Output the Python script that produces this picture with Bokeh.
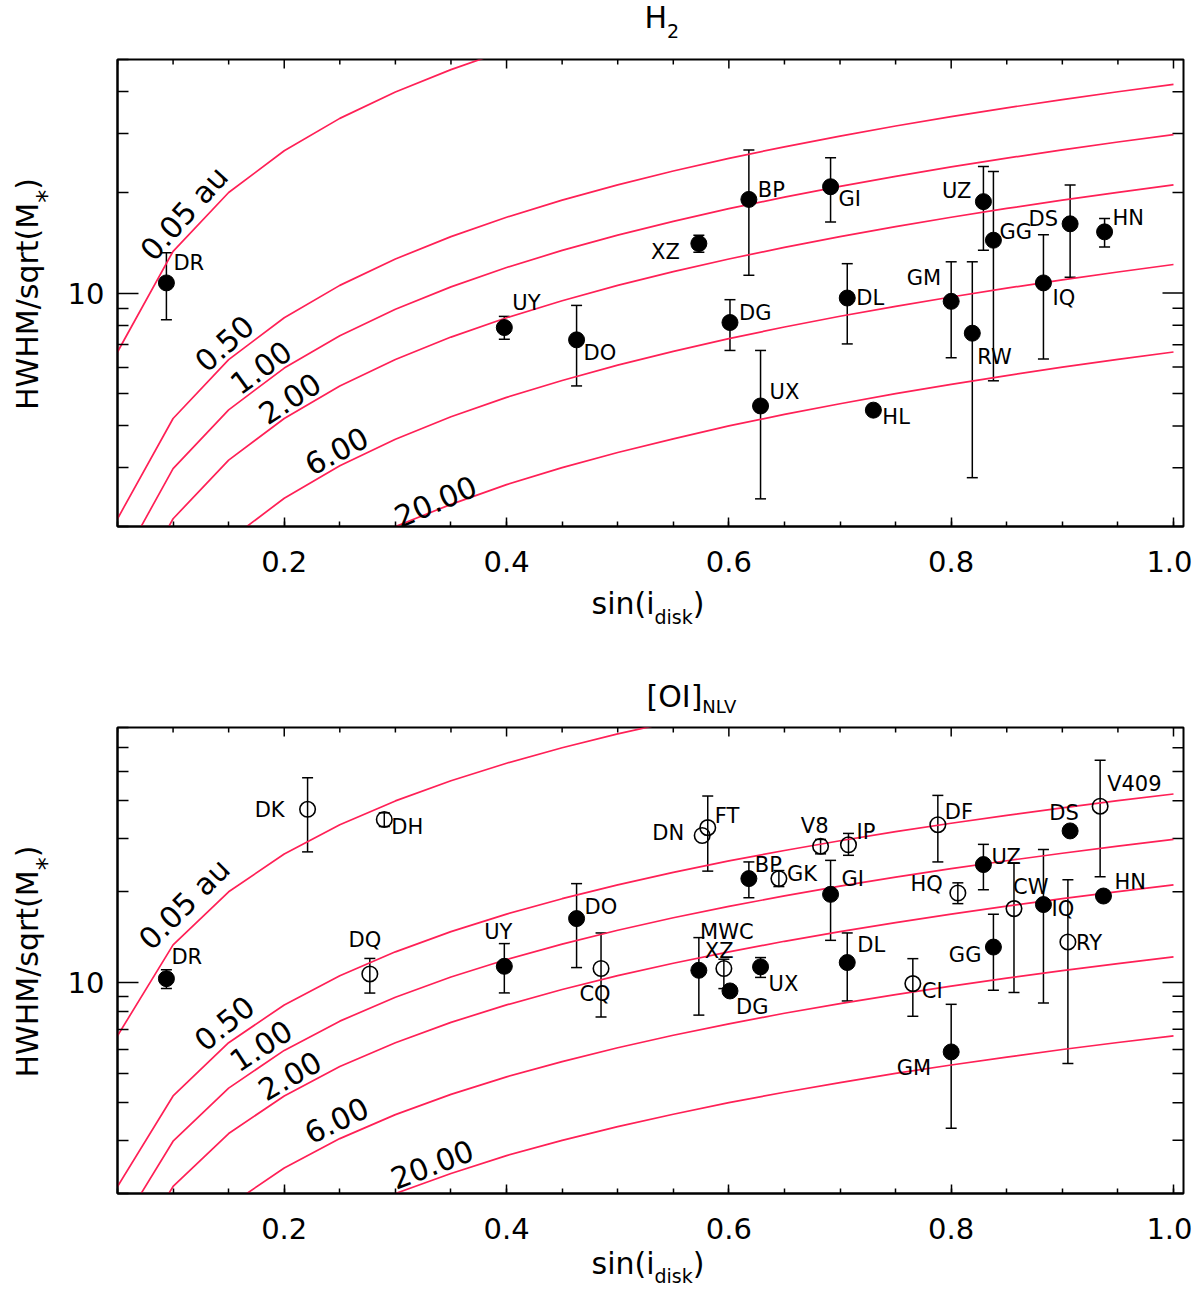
import math

from bokeh.core.properties import value
from bokeh.embed import file_html
from bokeh.layouts import column
from bokeh.models import (ColumnDataSource, FixedTicker, NumeralTickFormatter,
                          Range1d, TeeHead, Whisker)
from bokeh.plotting import figure
from bokeh.resources import INLINE

FONT = "DejaVu Sans"
RED = "#ff2056"

# Keplerian curves: HWHM/sqrt(M*) against sin(i) for a set of radii
sin_grid = [0.05, 0.10, 0.15, 0.20, 0.25, 0.30, 0.35, 0.40, 0.45, 0.50,
            0.55, 0.60, 0.65, 0.70, 0.75, 0.80, 0.85, 0.90, 0.95, 1.00]
kep_labels = ["0.05 au", "0.50", "1.00", "2.00", "6.00", "20.00"]
kep_r005 = [6.66, 13.33, 19.99, 26.65, 33.32, 39.98, 46.64, 53.31, 59.97, 66.64,
            73.30, 79.96, 86.63, 93.29, 99.95, 106.62, 113.28, 119.94, 126.61, 133.27]
kep_r050 = [2.11, 4.21, 6.32, 8.43, 10.54, 12.64, 14.75, 16.86, 18.96, 21.07,
            23.18, 25.29, 27.39, 29.50, 31.61, 33.71, 35.82, 37.93, 40.04, 42.14]
kep_r100 = [1.49, 2.98, 4.47, 5.96, 7.45, 8.94, 10.43, 11.92, 13.41, 14.90,
            16.39, 17.88, 19.37, 20.86, 22.35, 23.84, 25.33, 26.82, 28.31, 29.80]
kep_r200 = [1.05, 2.11, 3.16, 4.21, 5.27, 6.32, 7.38, 8.43, 9.48, 10.54,
            11.59, 12.64, 13.70, 14.75, 15.80, 16.86, 17.91, 18.96, 20.02, 21.07]
kep_r600 = [0.61, 1.22, 1.82, 2.43, 3.04, 3.65, 4.26, 4.87, 5.47, 6.08,
            6.69, 7.30, 7.91, 8.52, 9.12, 9.73, 10.34, 10.95, 11.56, 12.17]
kep_r2000 = [0.33, 0.67, 1.00, 1.33, 1.67, 2.00, 2.33, 2.67, 3.00, 3.33,
             3.66, 4.00, 4.33, 4.66, 5.00, 5.33, 5.66, 6.00, 6.33, 6.66]
kep_curves = [kep_r005, kep_r050, kep_r100, kep_r200, kep_r600, kep_r2000]

x_major = [0.2, 0.4, 0.6, 0.8, 1.0]
x_minor = [0.05, 0.10, 0.15, 0.20, 0.25, 0.30, 0.35, 0.40, 0.45, 0.50,
           0.55, 0.60, 0.65, 0.70, 0.75, 0.80, 0.85, 0.90, 0.95, 1.00]
y_major = [10]
y_minor = [2, 3, 4, 5, 6, 7, 8, 9, 20, 30, 40, 50, 60, 70]

# H2 panel
h2_names = ["DR", "UY", "DO", "XZ", "BP", "DG", "UX", "GI", "DL", "HL",
            "GM", "RW", "UZ", "GG", "IQ", "DS", "HN"]
h2_sini = [0.094, 0.398, 0.463, 0.573, 0.618, 0.601, 0.6285, 0.6915, 0.7065, 0.730,
           0.800, 0.819, 0.829, 0.838, 0.883, 0.907, 0.938]
h2_hwhm = [10.72, 7.88, 7.24, 14.06, 19.06, 8.16, 4.59, 20.8, 9.66, 4.46,
           9.44, 7.58, 18.77, 14.39, 10.72, 16.11, 15.24]
h2_hi = [13.2, 8.51, 9.18, 14.9, 26.8, 9.55, 6.73, 25.4, 12.24, None,
         12.4, 12.4, 23.9, 23.1, 14.94, 21.04, 16.7]
h2_lo = [8.31, 7.27, 5.27, 13.24, 11.3, 6.73, 2.42, 16.3, 7.04, None,
         6.4, 2.80, 13.42, 5.46, 6.35, 11.14, 13.74]
h2_open = [False] * 17

# [OI] NLV panel
oi_names = ["DR", "DK", "DH", "DQ", "UY", "DO", "CQ", "DN", "FT", "XZ",
            "MWC", "DG", "UX", "BP", "GK", "V8", "IP", "GI", "DL", "CI",
            "DF", "GM", "HQ", "UZ", "GG", "CW", "IQ", "RY", "DS", "V409", "HN"]
oi_sini = [0.094, 0.221, 0.290, 0.277, 0.398, 0.463, 0.485, 0.576, 0.581, 0.573,
           0.5955, 0.601, 0.6285, 0.618, 0.645, 0.6825, 0.7076, 0.6915, 0.7065, 0.7655,
           0.788, 0.800, 0.806, 0.829, 0.838, 0.8565, 0.883, 0.905, 0.907, 0.934, 0.937]
oi_hwhm = [10.3, 37.5, 34.7, 10.68, 11.32, 16.29, 11.13, 30.7, 32.6, 10.98,
           11.13, 9.38, 11.27, 22.1, 22.1, 28.3, 28.6, 19.6, 11.65, 9.92,
           33.35, 5.89, 19.8, 24.6, 13.11, 17.58, 18.13, 13.63, 31.8, 38.4, 19.35]
oi_hi = [11.03, 47.7, 36.5, 12.02, 13.46, 21.27, 14.6, None, 41.5, 14.09,
         11.95, None, 12.1, 25.1, 23.5, 29.8, 31.2, 25.4, 14.6, 12.0,
         41.7, 8.47, 21.4, 28.7, 16.84, 24.9, 27.6, 21.93, None, 54.5, None]
oi_lo = [9.56, 27.1, 32.9, 9.23, 9.24, 11.21, 7.69, None, 23.4, 7.8,
         9.55, None, 10.4, 19.1, 20.8, 26.7, 26.4, 13.8, 8.69, 7.73,
         25.1, 3.29, 18.26, 20.3, 9.43, 9.27, 8.56, 5.39, None, 22.4, None]
oi_open = [False, True, True, True, False, False, True, True, True, False,
           True, False, False, False, True, True, True, False, False, True,
           True, False, True, False, False, True, False, True, False, True, False]

# label placement: alignment, x offset, y offset (px, +y down)
h2_lab = {"DR": ("left", 7, -20), "UY": ("left", 8, -25), "DO": ("left", 7, 13),
          "XZ": ("right", -19, 8), "BP": ("left", 9, -9), "DG": ("left", 9, -10),
          "UX": ("left", 9, -14), "GI": ("left", 8, 12), "DL": ("left", 9, 0),
          "HL": ("left", 9, 7), "GM": ("right", -10, -23), "RW": ("left", 5, 24),
          "UZ": ("right", -12, -11), "GG": ("left", 6, -8), "IQ": ("left", 9, 15),
          "DS": ("right", -12, -5), "HN": ("left", 8, -14)}
oi_lab = {"DR": ("left", 5, -22), "DK": ("right", -23, 1), "DH": ("left", 7, 8),
          "DQ": ("center", -5, -34), "UY": ("center", -6, -34), "DO": ("left", 8, -12),
          "CQ": ("center", -6, 25), "DN": ("right", -18, -3), "FT": ("left", 7, -12),
          "XZ": ("left", 6, -19), "MWC": ("center", 3, -37), "DG": ("left", 6, 16),
          "UX": ("left", 8, 17), "BP": ("left", 6, -14), "GK": ("left", 8, -5),
          "V8": ("right", 8, -20), "IP": ("left", 8, -13), "GI": ("left", 11, -15),
          "DL": ("left", 10, -18), "CI": ("left", 9, 7), "DF": ("left", 7, -13),
          "GM": ("right", -20, 16), "HQ": ("right", -15, -9), "UZ": ("left", 8, -8),
          "GG": ("right", -12, 8), "CW": ("left", -1, -22), "IQ": ("left", 8, 4),
          "RY": ("left", 8, 1), "DS": ("center", -6, -18), "V409": ("left", 7, -22),
          "HN": ("left", 11, -14)}

# curve label spots: x, y, angle (deg)
h2_curve_lab = [(0.110, 17.3, 48), (0.146, 7.07, 42), (0.179, 5.99, 36),
                (0.205, 4.84, 33), (0.247, 3.37, 28), (0.336, 2.38, 23)]
oi_curve_lab = [(0.110, 18.2, 45), (0.146, 7.33, 39), (0.179, 6.18, 33),
                (0.205, 4.92, 30), (0.247, 3.50, 26), (0.333, 2.50, 21)]

X0, X1 = 0.05, 1.009
FRAME_W = 1066
YMIN = 2

# DejaVu Sans advance widths (em), to chain sub/superscript runs
WIDTH = {"H": .752, "W": .989, "M": .863, "/": .337, "s": .521, "q": .635, "r": .411,
         "t": .392, "(": .390, ")": .390, "*": .500, "i": .278, "n": .634, "d": .635,
         "k": .579, "[": .390, "]": .390, "O": .787, "I": .295, "N": .748, "L": .557,
         "V": .684, "2": .636}


def text_width(s, size):
    return sum(WIDTH.get(c, 0.6) for c in s) * size


def add_runs(p, to_data, fx, fy, runs, vertical=False):
    # fx, fy: baseline start in px from the frame's top-left corner, y downwards
    pos = 0.0
    for txt, size, shift in runs:
        down = shift - 0.365 * size  # "middle" anchor sits at cap centre
        if vertical:
            x, y = to_data(fx + down, fy - pos)
        else:
            x, y = to_data(fx + pos, fy + down)
        p.text(x=[x], y=[y], text=[txt], angle=math.pi / 2 if vertical else 0,
               text_align="left", text_baseline="middle", text_font=value(FONT),
               text_font_size=f"{size}px", text_color="black", level="overlay")
        pos += text_width(txt, size)


def style_axis(ax, kind):
    ax.axis_line_width = 2
    ax.axis_line_color = "black"
    ax.major_tick_line_width = 1.5
    ax.minor_tick_line_width = 1.5
    ax.major_tick_out = 0
    ax.minor_tick_out = 0
    ax.major_tick_in = 9 if kind == "x" else 21
    ax.minor_tick_in = 5 if kind == "x" else 11
    ax.major_label_text_font = FONT
    ax.major_label_text_font_size = "29px"
    ax.major_label_text_color = "black"
    ax.major_label_standoff = 24 if kind == "x" else 13


def make_panel(ymax, frame_h, border_top, border_bottom, names, sini, hwhm, hi, lo, hollow,
               lab, curve_lab, title_runs, title_at, xlab_dy, sub_dy):
    p = figure(frame_width=FRAME_W, frame_height=frame_h,
               x_range=Range1d(X0, X1), y_range=Range1d(YMIN, ymax),
               y_axis_type="log", output_backend="svg", toolbar_location=None,
               min_border_left=117, min_border_right=9, min_border_top=border_top,
               min_border_bottom=border_bottom, background_fill_color="white",
               border_fill_color="white")
    p.xgrid.visible = False
    p.ygrid.visible = False
    p.outline_line_color = "black"
    p.outline_line_width = 2

    p.xaxis.ticker = FixedTicker(ticks=x_major, minor_ticks=x_minor)
    p.yaxis.ticker = FixedTicker(ticks=y_major, minor_ticks=y_minor)
    p.xaxis.formatter = NumeralTickFormatter(format="0.0")
    p.yaxis.formatter = NumeralTickFormatter(format="0")
    style_axis(p.below[0], "x")
    style_axis(p.left[0], "y")

    lg = math.log10(ymax / YMIN)

    def to_data(fx, fy):
        return X0 + fx * (X1 - X0) / FRAME_W, ymax * 10 ** (-fy / frame_h * lg)

    # mirrored ticks on the top and right edges
    tx, ty0, ty1 = [], [], []
    for t, ln in [(t, 9) for t in x_major] + [(t, 5) for t in x_minor if t not in x_major]:
        tx.append(t)
        ty0.append(ymax)
        ty1.append(to_data(0, ln)[1])
    p.segment(x0=tx, y0=ty0, x1=tx, y1=ty1, line_color="black", line_width=1.5)
    ry, rx0, rx1 = [], [], []
    for t, ln in [(t, 21) for t in y_major] + [(t, 11) for t in y_minor if t <= ymax]:
        ry.append(t)
        rx0.append(X1)
        rx1.append(to_data(FRAME_W - ln, 0)[0])
    p.segment(x0=rx0, y0=ry, x1=rx1, y1=ry, line_color="black", line_width=1.5)

    for ys in kep_curves:
        p.line(sin_grid, ys, line_color=RED, line_width=1.7)

    p.text(x=[c[0] for c in curve_lab], y=[c[1] for c in curve_lab], text=kep_labels,
           angle=[math.radians(c[2]) for c in curve_lab], text_align="center",
           text_baseline="middle", text_font=value(FONT), text_font_size="30px",
           text_color="black")

    keep = [i for i in range(len(names)) if hi[i] is not None]
    err = ColumnDataSource(dict(x=[sini[i] for i in keep], hi=[hi[i] for i in keep],
                                lo=[lo[i] for i in keep]))
    head = dict(size=11, line_color="black", line_width=1.5)
    p.add_layout(Whisker(source=err, base="x", upper="hi", lower="lo", dimension="height",
                         line_color="black", line_width=1.5,
                         upper_head=TeeHead(**head), lower_head=TeeHead(**head)))

    filled = [i for i in range(len(names)) if not hollow[i]]
    opened = [i for i in range(len(names)) if hollow[i]]
    if filled:
        p.scatter([sini[i] for i in filled], [hwhm[i] for i in filled], marker="circle",
                  size=16, fill_color="black", line_color="black")
    if opened:
        p.scatter([sini[i] for i in opened], [hwhm[i] for i in opened], marker="circle",
                  size=15.5, fill_color=None, line_color="black", line_width=1.6)

    for align in ("left", "right", "center"):
        idx = [i for i, n in enumerate(names) if lab[n][0] == align]
        if not idx:
            continue
        src = ColumnDataSource(dict(x=[sini[i] for i in idx], y=[hwhm[i] for i in idx],
                                    t=[names[i] for i in idx],
                                    dx=[lab[names[i]][1] for i in idx],
                                    dy=[lab[names[i]][2] for i in idx]))
        p.text(x="x", y="y", text="t", x_offset="dx", y_offset="dy", source=src,
               text_align=align, text_baseline="middle", text_font=value(FONT),
               text_font_size="21px", text_color="black")

    # title, x label, y label built from runs so subscripts stay real text
    add_runs(p, to_data, title_at[0], title_at[1], title_runs)
    add_runs(p, to_data, 474, frame_h + xlab_dy,
             [("sin(i", 30, 0), ("disk", 19, sub_dy), (")", 30, 0)])
    add_runs(p, to_data, -79, frame_h / 2 + 117,
             [("HWHM/sqrt(M", 30, 0), ("*", 26, 18), (")", 30, 0)], vertical=True)
    return p


p_h2 = make_panel(50, 467, 59, 150, h2_names, h2_sini, h2_hwhm, h2_hi, h2_lo, h2_open,
                  h2_lab, h2_curve_lab, [("H", 30, 0), ("2", 19, 9)], (527, -31), 88, 9)
p_oi = make_panel(70, 466, 51, 100, oi_names, oi_sini, oi_hwhm, oi_hi, oi_lo, oi_open,
                  oi_lab, oi_curve_lab, [("[OI]", 30, 0), ("NLV", 18, 6)], (529, -20), 81, 8)

layout = column(p_h2, p_oi)
open("out.html", "w").write(file_html(layout, INLINE))
